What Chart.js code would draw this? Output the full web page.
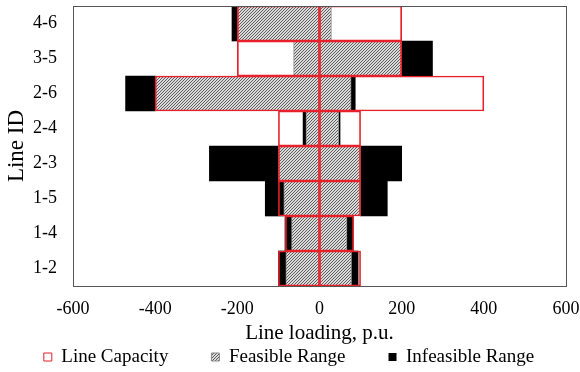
<!DOCTYPE html>
<html>
  <body style="margin:0; background:#fff;">
    <canvas id="loading" width="580" height="372"></canvas>

    <script src="https://cdn.jsdelivr.net/npm/chart.js"></script>
    <script>
      // line IDs, top to bottom as in the figure
      const lineIds = ['4-6', '3-5', '2-6', '2-4', '2-3', '1-5', '1-4', '1-2'];
      const xTicks = [-600, -400, -200, 0, 200, 400, 600];

      const capacity = [200, 200, 400, 100, 100, 100, 83, 100];
      const feasibleLow = [-200, -63, -400, -33, -100, -87, -68, -82];
      const feasibleHigh = [29, 200, 77, 47, 100, 100, 67, 78];
      const infeasLeftLow = [-213, null, -472, -40, -268, -132, -84, -100];
      const infeasLeftHigh = [-200, null, -400, -33, -100, -87, -68, -82];
      const infeasRightLow = [null, 200, 77, 47, 100, 100, 67, 78];
      const infeasRightHigh = [null, 275, 87, 50, 200, 165, 82, 94];

      const serif = 'Liberation Serif';

      function pair(lo, hi) {
        return lo.map((v, i) => (v === null ? null : [v, hi[i]]));
      }

      // fine "////" hatch for the feasible range
      function hatch() {
        const c = document.createElement('canvas');
        c.width = 3; c.height = 3;
        const g = c.getContext('2d');
        g.fillStyle = '#dadada';
        g.fillRect(0, 0, 3, 3);
        g.fillStyle = '#5e5e5e';
        g.fillRect(0, 2, 1, 1);
        g.fillRect(1, 1, 1, 1);
        g.fillRect(2, 0, 1, 1);
        return g.createPattern(c, 'repeat');
      }

      // box around the plot area
      const frame = {
        id: 'frame',
        afterDatasetsDraw(chart) {
          const { ctx, chartArea: a } = chart;
          ctx.save();
          ctx.strokeStyle = '#555';
          ctx.lineWidth = 1;
          ctx.strokeRect(Math.round(a.left) + 0.5, Math.round(a.top) + 0.5,
                         Math.round(a.right - a.left), Math.round(a.bottom - a.top));
          ctx.restore();
        }
      };

      const barBase = { borderSkipped: false, barPercentage: 1, categoryPercentage: 1 };

      const ctx = document.getElementById('loading').getContext('2d');
      new Chart(ctx, {
        type: 'bar',
        plugins: [frame],
        data: {
          labels: lineIds,
          datasets: [
            {
              ...barBase,
              label: 'Line Capacity',
              data: pair(capacity.map(v => -v), capacity.map(() => 0)),
              backgroundColor: 'rgba(255,255,255,0)',
              borderColor: '#e8202a',
              borderWidth: 1
            },
            {
              ...barBase,
              label: 'Line Capacity',
              data: pair(capacity.map(() => 0), capacity),
              backgroundColor: 'rgba(255,255,255,0)',
              borderColor: '#e8202a',
              borderWidth: 1
            },
            {
              ...barBase,
              label: 'Feasible Range',
              data: pair(feasibleLow, feasibleHigh),
              backgroundColor: hatch(),
              borderColor: '#8a8a8a',
              borderWidth: 1
            },
            {
              ...barBase,
              label: 'Infeasible Range',
              data: pair(infeasLeftLow, infeasLeftHigh),
              backgroundColor: '#000',
              borderColor: '#000',
              borderWidth: 0
            },
            {
              ...barBase,
              label: 'Infeasible Range',
              data: pair(infeasRightLow, infeasRightHigh),
              backgroundColor: '#000',
              borderColor: '#000',
              borderWidth: 0
            }
          ]
        },
        options: {
          responsive: false,
          animation: false,
          indexAxis: 'y',
          grouped: false,
          layout: { padding: { top: 6, right: 2, left: 0, bottom: -4.5 } },
          plugins: {
            tooltip: { enabled: false },
            legend: {
              position: 'bottom',
              // empty title only pulls the row up so wide item spacing fits
              title: { display: true, text: '', font: { size: 1 }, padding: { top: -14.7, bottom: 0 } },
              labels: {
                color: '#000',
                font: { family: serif, size: 19 },
                boxWidth: 8,
                boxHeight: 8,
                padding: 43,
                filter: (item) => item.datasetIndex !== 1 && item.datasetIndex !== 4
              }
            }
          },
          scales: {
            x: {
              min: -600,
              max: 600,
              afterBuildTicks: (axis) => { axis.ticks = xTicks.map(v => ({ value: v })); },
              afterFit: (axis) => {
                axis.height = 32;
                axis.paddingLeft = 0;
                axis.paddingRight = 14;
              },
              grid: { display: false, drawTicks: false },
              border: { display: false },
              ticks: { color: '#000', font: { family: serif, size: 18 }, padding: 12 },
              title: {
                display: true,
                text: 'Line loading, p.u.',
                color: '#000',
                font: { family: serif, size: 21 },
                padding: { top: 0, bottom: -27.6 }
              }
            },
            y: {
              afterFit: (axis) => {
                axis.width = 73;
                axis.paddingTop = 0;
                axis.paddingBottom = 0;
              },
              grid: { display: false, drawTicks: false },
              border: { display: false },
              ticks: { color: '#000', font: { family: serif, size: 18 }, padding: 16 },
              title: {
                display: true,
                text: 'Line ID',
                color: '#000',
                font: { family: serif, size: 23 },
                padding: { top: 3, bottom: 0 }
              }
            }
          }
        }
      });
    </script>
  </body>
</html>
